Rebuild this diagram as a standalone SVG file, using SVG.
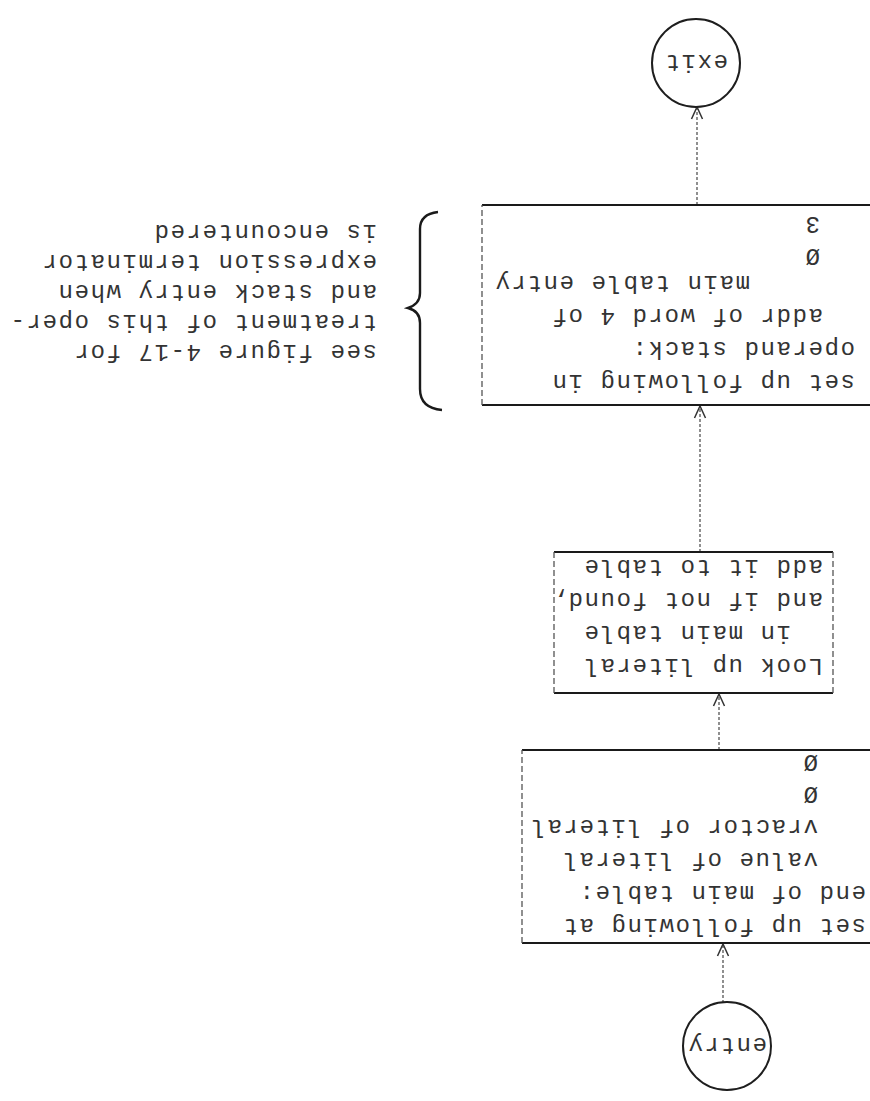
<svg xmlns="http://www.w3.org/2000/svg" width="870" height="1101" viewBox="0 0 870 1101">
<style>
.t{font-family:"Liberation Mono","DejaVu Sans Mono",monospace;font-size:24px;letter-spacing:1.6px;fill:#333}
.c{text-anchor:middle}
.h{stroke:#1a1a1a;stroke-width:2.2;fill:none}
.v{stroke:#555;stroke-width:1.3;stroke-dasharray:6 3;fill:none}
.circ{stroke:#1e1e1e;stroke-width:2;fill:none}
.con{stroke:#555;stroke-width:1.3;stroke-dasharray:3 2;fill:none}
</style>
<defs>
<marker id="ah" viewBox="0 0 14 14" refX="13" refY="7" markerWidth="14" markerHeight="14" markerUnits="userSpaceOnUse" orient="auto">
<path d="M1,1.5 L13,7 L1,12.5" fill="none" stroke="#333" stroke-width="1.5"/>
</marker>
</defs>
<rect width="870" height="1101" fill="#fff"/>
<g transform="rotate(180 435 550.5)">
<g id="connectors">
<line class="con" x1="147" y1="98" x2="147" y2="157" marker-end="url(#ah)"/>
<line class="con" x1="151" y1="351" x2="151" y2="407" marker-end="url(#ah)"/>
<line class="con" x1="170" y1="549" x2="170" y2="695" marker-end="url(#ah)"/>
<line class="con" x1="173" y1="896" x2="173" y2="994" marker-end="url(#ah)"/>
</g>
<g id="entry">
<circle class="circ" cx="143" cy="55" r="44"/>
<text class="t c" x="143" y="63">entry</text>
</g>
<g id="box1">
<line class="h" x1="-5" y1="158" x2="348" y2="158"/>
<line class="h" x1="-5" y1="351" x2="348" y2="351"/>
<line class="v" x1="348" y1="158" x2="348" y2="351"/>
<text class="t" x="4" y="182">set up following at</text>
<text class="t" x="4" y="215">end of main table:</text>
<text class="t" x="52" y="248">value of literal</text>
<text class="t" x="52" y="281">vractor of literal</text>
<text class="t" x="52" y="314">Ø</text>
<text class="t" x="52" y="346">Ø</text>
</g>
<g id="box2">
<line class="h" x1="37" y1="408" x2="316" y2="408"/>
<line class="h" x1="37" y1="549" x2="316" y2="549"/>
<line class="v" x1="37" y1="408" x2="37" y2="549"/>
<line class="v" x1="316" y1="408" x2="316" y2="549"/>
<text class="t" x="47" y="442">Look up literal</text>
<text class="t" x="79" y="475">in main table</text>
<text class="t" x="47" y="508">and if not found,</text>
<text class="t" x="47" y="541">add it to table</text>
</g>
<g id="box3">
<line class="h" x1="-5" y1="696" x2="388" y2="696"/>
<line class="h" x1="-5" y1="896" x2="388" y2="896"/>
<line class="v" x1="388" y1="696" x2="388" y2="896"/>
<text class="t" x="15" y="726">set up following in</text>
<text class="t" x="15" y="759">operand stack:</text>
<text class="t" x="47" y="792">addr of word 4 of</text>
<text class="t" x="120" y="825">main table entry</text>
<text class="t" x="50" y="852">Ø</text>
<text class="t" x="50" y="884">3</text>
</g>
<g id="note">
<path d="M428 691 Q450 693 450 712 L450 778 Q450 790 462 793 Q450 797 450 808 L450 872 Q450 887 432 889" fill="none" stroke="#1a1a1a" stroke-width="2.4"/>
<text class="t" x="493" y="756">see figure 4-17 for</text>
<text class="t" x="493" y="786">treatment of this oper-</text>
<text class="t" x="493" y="816">and stack entry when</text>
<text class="t" x="493" y="846">expression terminator</text>
<text class="t" x="493" y="876">is encountered</text>
</g>
<g id="exit">
<circle class="circ" cx="174" cy="1038" r="44"/>
<text class="t c" x="174" y="1046">exit</text>
</g>
</g>
</svg>
